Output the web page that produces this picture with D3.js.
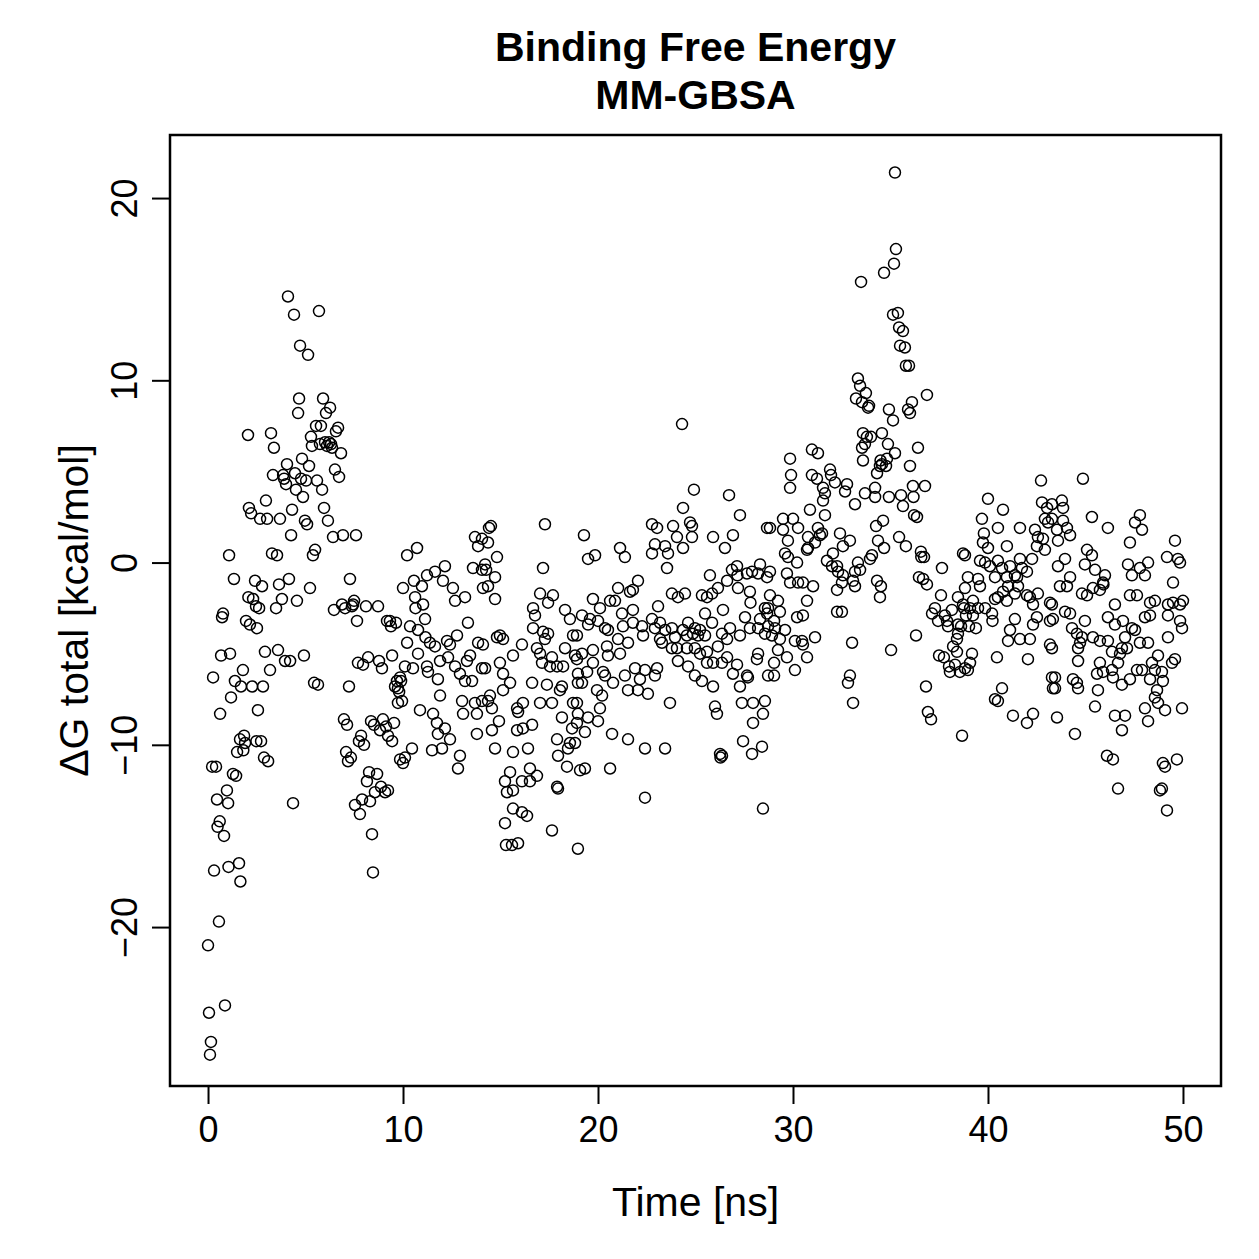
<!DOCTYPE html>
<html>
<head>
<meta charset="utf-8">
<script src="https://cdn.jsdelivr.net/npm/d3@7"></script>
<style>
  body { margin: 0; background: #fff; }
  text { font-family: "Liberation Sans", Arial, Helvetica, sans-serif; fill: #000; }
</style>
</head>
<body>
<div id="chart"></div>
<script>
// MM-GBSA binding free energy per frame, [time (ns), dG (kcal/mol)]
var seg00 = [[0.00,-21.0],[0.05,-24.7],[0.10,-27.0],[0.15,-26.3],[0.21,-11.2],[0.26,-6.3],[0.31,-16.9],[0.41,-11.2],[0.46,-13.0],[0.49,-14.5],[0.56,-19.7],[0.60,-14.2],[0.62,-8.3],[0.67,-5.1],[0.72,-3.0],[0.77,-2.8],[0.82,-15.0],[0.87,-24.3],[0.97,-12.5],[1.03,-13.2],[1.05,-16.7],[1.08,0.4],[1.13,-5.0],[1.18,-7.4],[1.28,-11.6],[1.33,-0.9],[1.38,-6.5],[1.44,-11.7],[1.49,-10.4],[1.59,-16.5],[1.64,-9.7],[1.66,-17.5],[1.69,-6.8],[1.79,-5.9],[1.81,-10.3],[1.85,-9.5],[1.90,-9.9],[1.95,-3.2],[2.05,7.0],[2.07,-1.9],[2.10,3.0],[2.15,-3.4],[2.21,2.7],[2.26,-6.8],[2.31,-2.0],[2.41,-1.0],[2.46,-2.4],[2.48,-9.8],[2.51,-3.6],[2.56,-8.1],[2.62,-2.5],[2.67,2.4],[2.72,-9.8],[2.77,-1.3],[2.82,-6.8],[2.87,-10.7],[2.92,-4.9],[2.97,3.4],[3.03,2.4],[3.08,-10.9],[3.18,-5.9],[3.23,7.1],[3.28,0.5],[3.33,4.8],[3.38,6.3],[3.49,-2.5],[3.54,0.4],[3.59,-4.8],[3.64,-1.2],[3.69,2.4],[3.79,-2.0],[3.85,4.8],[3.90,4.6],[3.95,-5.4],[4.00,4.3],[4.05,5.4],[4.10,14.6],[4.15,-0.9],[4.21,-5.4],[4.26,1.5],[4.31,2.9],[4.36,-13.2],[4.41,13.6],[4.46,4.9],[4.51,4.0],[4.56,-2.1],[4.62,8.2],[4.67,9.0],[4.72,11.9],[4.77,4.6],[4.82,5.7],[4.87,3.6],[4.92,-5.1],[4.97,2.3],[5.03,4.5],[5.08,2.1],[5.13,11.4],[5.18,5.3],[5.23,-1.4],[5.28,6.9],[5.33,6.4],[5.38,0.4],[5.44,-6.6],[5.49,0.7],[5.54,7.5],[5.59,4.5],[5.64,-6.7],[5.69,13.8],[5.74,6.5],[5.79,7.5],[5.85,4.0],[5.90,9.0],[5.95,3.0],[6.00,6.6],[6.05,8.2],[6.10,6.4],[6.15,2.3],[6.21,6.6],[6.26,8.5],[6.31,6.5],[6.36,6.3],[6.41,1.4],[6.46,-2.6],[6.51,5.1],[6.56,7.2],[6.67,7.4],[6.72,4.7],[6.82,6.0],[6.87,-2.3],[6.92,1.5],[6.97,-8.6],[7.03,-2.5],[7.08,-10.4],[7.13,-8.9],[7.18,-10.9],[7.23,-6.8],[7.28,-0.9],[7.33,-10.7],[7.38,-2.4],[7.44,-2.3],[7.49,-2.1],[7.54,-13.3],[7.59,1.5],[7.64,-3.2],[7.69,-5.5],[7.74,-9.8],[7.79,-13.8],[7.85,-9.5],[7.90,-13.0],[7.95,-5.6],[8.00,-10.0],[8.10,-2.4],[8.15,-12.0],[8.21,-5.2],[8.26,-11.5],[8.31,-13.1],[8.36,-8.7],[8.41,-14.9],[8.46,-17.0],[8.51,-8.9],[8.56,-12.6],[8.67,-11.6],[8.72,-2.4],[8.77,-5.4],[8.82,-9.2],[8.87,-12.3],[8.92,-5.8],[8.97,-8.6],[9.08,-12.6],[9.13,-9.0],[9.18,-3.2],[9.23,-9.5],[9.23,-12.5],[9.33,-3.2],[9.38,-3.5],[9.44,-5.1],[9.44,-9.8],[9.54,-8.8],[9.59,-6.8],[9.64,-3.3],[9.69,-6.5],[9.74,-6.9],[9.74,-7.7],[9.80,-7.1],[9.85,-10.8],[9.85,-6.3],[9.90,-6.5],[9.95,-7.6]];

var seg10 = [[10.00,-11.0],[10.21,0.4],[10.72,0.8],[10.00,-1.4],[10.56,-1.0],[10.97,-1.3],[11.23,-0.7],[11.64,-0.5],[12.15,-0.2],[12.05,-1.0],[12.56,-1.4],[12.67,-2.1],[13.18,-1.9],[10.62,-1.9],[10.64,-2.5],[11.03,-2.3],[11.13,-3.1],[10.36,-3.5],[10.77,-3.7],[11.15,-4.1],[11.38,-4.4],[11.64,-4.6],[12.26,-4.3],[12.41,-4.5],[12.77,-4.0],[13.33,-3.3],[10.21,-4.4],[10.77,-5.0],[11.90,-5.4],[12.31,-5.2],[12.67,-5.7],[13.28,-5.4],[13.44,-5.1],[13.85,-4.4],[10.10,-5.7],[10.51,-5.8],[11.23,-5.7],[11.28,-6.0],[11.79,-6.4],[12.92,-6.1],[13.18,-6.5],[13.54,-6.5],[11.90,-7.3],[13.03,-7.6],[13.69,-7.7],[13.08,-8.3],[13.79,-8.3],[10.87,-8.1],[11.54,-8.3],[11.74,-8.8],[11.79,-9.4],[12.15,-9.1],[12.41,-9.7],[13.79,-9.4],[10.46,-10.2],[11.49,-10.3],[12.00,-10.2],[12.92,-10.6],[12.82,-11.3],[10.10,-10.7],[13.69,1.4],[13.85,0.9],[13.59,-0.3],[14.05,-0.4],[14.10,-1.4],[14.05,-5.8],[14.41,1.9],[14.36,-7.6],[14.46,-7.3],[14.56,-8.0],[14.72,-10.2],[14.82,-4.1],[14.92,-8.7],[14.97,-4.0],[15.13,-7.0],[15.23,-12.0],[15.28,-15.5],[15.49,-11.5],[15.59,-15.5],[14.51,2.0],[17.28,2.1],[14.36,1.1],[14.05,1.3],[14.82,0.3],[14.21,-0.1],[14.26,-0.4],[14.72,-0.8],[14.36,-1.3],[14.72,-2.0],[17.18,-0.3],[17.03,-1.7],[17.44,-2.2],[17.69,-1.8],[16.67,-2.5],[16.77,-2.9],[18.31,-2.6],[18.56,-3.1],[16.67,-3.6],[17.18,-3.8],[17.44,-3.9],[17.28,-4.2],[18.72,-4.0],[15.13,-4.2],[14.10,-4.5],[16.10,-4.5],[16.87,-4.7],[18.31,-4.7],[15.64,-5.1],[17.03,-5.0],[17.64,-5.2],[14.97,-5.5],[17.13,-5.5],[17.54,-5.7],[17.90,-5.7],[18.21,-5.7],[18.82,-5.1],[14.21,-5.8],[15.13,-6.1],[15.49,-6.6],[16.62,-6.6],[17.38,-6.7],[18.15,-6.8],[18.05,-7.0],[18.97,-6.6],[14.05,-7.6],[15.85,-8.0],[16.15,-7.7],[17.03,-7.7],[17.64,-7.7],[18.72,-7.7],[15.90,-8.2],[14.56,-9.2],[15.85,-9.2],[16.15,-9.1],[16.62,-8.9],[18.15,-8.5],[18.67,-9.1],[17.90,-9.7],[18.56,-9.9],[18.46,-10.2],[15.64,-10.4],[16.41,-10.2],[17.95,-10.6],[18.41,-11.2],[16.51,-11.3],[16.10,-12.0],[16.51,-12.0],[16.87,-11.7],[17.90,-12.3],[17.95,-12.4],[15.33,-12.6],[15.64,-12.5],[15.64,-13.5],[16.10,-13.7],[16.36,-13.9],[15.23,-14.3],[17.64,-14.7],[15.90,-15.4],[19.28,1.5],[19.49,0.2],[19.85,0.4],[19.74,-2.0],[19.18,-2.9],[19.59,-3.1],[19.49,-3.4],[18.92,-4.0],[19.74,-4.8],[19.18,-5.0],[18.92,-5.3],[19.74,-5.5],[19.44,-6.0],[18.97,-6.1],[19.18,-6.6],[19.95,-7.0],[18.92,-7.7],[18.97,-8.3],[19.49,-8.5],[18.92,-8.8],[19.33,-9.3],[18.82,-9.9],[19.08,-11.4],[19.33,-11.3],[18.97,-15.7]];

var seg20 = [[22.77,2.1],[23.03,1.9],[23.85,2.0],[21.13,0.8],[21.38,0.3],[22.77,0.5],[22.92,1.0],[23.44,0.9],[23.59,0.5],[23.54,-0.3],[23.79,-1.7],[22.05,-1.0],[21.79,-1.5],[21.64,-1.6],[21.03,-1.4],[20.62,-2.1],[20.87,-2.1],[20.10,-2.5],[21.23,-2.8],[21.79,-2.6],[23.08,-2.4],[20.00,-3.2],[20.36,-3.6],[20.51,-3.7],[21.28,-3.5],[21.79,-3.3],[22.26,-3.5],[22.77,-3.1],[22.92,-3.6],[23.18,-3.3],[23.44,-3.7],[22.31,-4.0],[23.18,-4.2],[23.28,-4.4],[23.79,-4.7],[21.03,-4.2],[21.54,-4.4],[20.46,-4.6],[21.13,-5.0],[20.51,-5.1],[20.26,-6.0],[20.36,-6.2],[21.38,-6.2],[21.90,-5.8],[22.41,-5.9],[23.03,-5.8],[22.92,-6.2],[22.15,-6.4],[20.77,-6.6],[21.54,-7.0],[22.05,-7.0],[22.56,-7.2],[20.21,-7.3],[20.10,-8.0],[23.69,-7.7],[20.00,-8.7],[20.72,-9.4],[21.54,-9.7],[22.41,-10.2],[23.44,-10.2],[20.62,-11.3],[22.41,-12.9],[24.31,7.6],[24.92,4.0],[26.72,3.7],[24.36,3.0],[27.28,2.6],[24.72,2.2],[24.82,2.0],[24.05,1.4],[24.82,1.4],[25.90,1.4],[26.92,1.5],[26.51,0.8],[28.67,1.9],[24.36,0.8],[25.74,-0.7],[26.15,-1.4],[26.62,-1.0],[26.87,-0.4],[27.13,-0.2],[27.15,-0.7],[27.64,-0.6],[27.90,-0.5],[28.31,-0.1],[28.21,-0.6],[28.67,-0.8],[27.18,-1.4],[27.79,-1.6],[27.82,-2.2],[24.10,-1.9],[24.46,-1.7],[25.33,-1.8],[25.59,-1.9],[25.85,-1.7],[25.49,-2.8],[26.41,-2.6],[25.85,-3.3],[27.54,-3.0],[28.31,-3.1],[28.56,-2.5],[28.67,-2.8],[23.79,-3.6],[24.62,-3.3],[24.97,-3.6],[25.23,-3.7],[24.36,-3.7],[24.56,-4.0],[24.87,-3.9],[25.13,-4.0],[23.95,-4.1],[25.49,-4.0],[26.36,-3.9],[26.77,-3.6],[26.62,-4.2],[27.28,-4.0],[27.79,-3.6],[28.21,-3.6],[28.56,-3.9],[24.05,-4.7],[24.56,-4.7],[26.15,-4.6],[24.97,-4.7],[25.23,-5.0],[25.59,-4.9],[25.90,-5.5],[26.36,-5.5],[26.62,-5.2],[25.59,-5.5],[24.10,-5.4],[24.62,-5.7],[28.21,-5.0],[28.15,-5.3],[27.13,-5.6],[24.97,-6.2],[25.33,-6.5],[25.90,-6.8],[26.92,-6.1],[27.28,-6.8],[27.64,-6.2],[27.69,-6.3],[28.72,-6.2],[26.00,-7.9],[26.10,-8.3],[27.38,-7.7],[27.95,-7.7],[28.56,-7.6],[27.95,-8.8],[28.46,-8.3],[27.44,-9.8],[27.90,-10.5],[28.41,-10.1],[26.26,-10.5],[26.36,-10.6],[26.28,-10.7],[28.46,-13.5],[29.85,5.7],[29.90,4.8],[29.85,4.1],[29.49,2.4],[28.82,1.9],[29.49,1.8],[29.74,1.2],[29.59,0.5],[29.74,0.3],[28.82,-0.5],[29.69,-0.6],[29.85,-1.1],[28.82,-1.8],[29.23,-2.1],[28.72,-2.5],[29.33,-2.7],[29.03,-3.2],[28.72,-3.5],[29.08,-3.6],[29.59,-3.7],[28.92,-4.0],[29.33,-4.2],[29.23,-4.8],[29.69,-5.2],[29.03,-5.5],[29.03,-6.2]];

var seg30 = [[33.49,15.4],[33.33,10.1],[33.44,9.7],[33.23,9.0],[33.54,8.8],[33.59,7.1],[33.54,6.3],[33.59,5.6],[30.97,6.2],[31.28,6.0],[30.97,4.8],[31.23,4.6],[31.90,5.1],[31.95,4.8],[32.15,4.4],[32.77,4.3],[32.67,3.9],[31.54,4.1],[31.64,3.8],[31.54,3.4],[33.18,3.2],[33.69,3.8],[30.87,2.9],[31.64,2.6],[30.00,2.4],[30.26,1.9],[30.77,1.4],[31.28,1.9],[31.38,1.5],[31.49,1.6],[31.13,1.1],[30.77,0.8],[30.72,0.7],[32.41,1.6],[32.92,1.2],[32.56,0.9],[32.05,0.5],[30.21,0.0],[30.51,-1.1],[30.26,-1.1],[31.03,-1.3],[31.74,0.1],[32.00,-0.2],[32.26,-0.2],[32.31,-0.5],[32.56,-0.7],[32.51,-1.1],[33.08,-1.0],[33.18,-0.5],[33.33,0.0],[33.44,-0.4],[32.26,-1.5],[33.18,-1.3],[30.72,-2.1],[30.21,-3.0],[30.51,-2.9],[32.26,-2.7],[32.51,-2.7],[30.10,-4.3],[30.46,-4.3],[30.51,-4.5],[31.13,-4.1],[33.03,-4.4],[30.72,-5.2],[30.10,-5.9],[32.92,-6.2],[32.82,-6.6],[33.08,-7.7],[35.23,21.4],[35.28,17.2],[35.18,16.4],[34.67,15.9],[35.13,13.6],[35.38,13.7],[35.44,12.9],[35.49,11.9],[35.64,12.7],[35.74,11.8],[35.79,10.8],[35.95,10.8],[35.90,8.4],[36.00,8.2],[36.10,8.8],[36.87,9.2],[35.23,6.0],[36.41,6.3],[36.00,5.3],[36.15,4.2],[36.77,4.2],[36.18,3.6],[36.21,2.6],[36.36,2.5],[35.54,3.7],[35.64,3.1],[35.44,1.4],[35.79,0.9],[36.56,0.6],[36.31,-4.0],[36.46,-0.8],[36.58,0.3],[36.67,-0.9],[36.87,-1.2],[36.72,0.3],[36.82,-6.8],[36.92,-8.2],[37.08,-8.6],[37.13,-2.8],[37.28,-2.5],[37.44,-3.2],[37.49,-5.1],[37.59,-1.8],[37.64,-0.3],[37.74,-5.2],[37.79,-2.9],[37.90,-3.2],[37.95,-3.5],[38.00,-5.7],[38.05,-6.0],[38.15,-2.6],[38.21,-4.6],[38.31,-5.6],[38.41,-4.2],[38.46,-3.4],[38.56,-6.0],[38.67,-9.5],[38.77,-2.5],[38.87,-2.9],[38.72,0.5],[34.21,4.1],[34.31,4.9],[34.46,5.3],[34.49,5.6],[34.56,5.4],[34.36,1.2],[34.46,-1.9],[34.51,-1.3],[34.62,2.3],[34.67,0.8],[34.77,5.3],[34.82,5.7],[34.87,6.5],[34.92,8.4],[35.13,7.8],[34.92,3.6],[34.56,7.1],[34.00,6.9],[33.69,6.5],[33.79,6.9],[33.90,8.6],[33.74,9.3],[33.85,8.5],[34.21,3.6],[34.26,2.0],[34.05,0.4],[33.95,0.2],[34.31,-1.0],[35.03,-4.8],[39.69,2.4],[39.79,1.6],[39.74,1.1],[38.82,0.4],[39.59,0.1],[39.85,0.0],[38.97,-0.8],[39.49,-0.9],[39.59,-1.3],[38.82,-1.4],[38.46,-1.9],[38.72,-2.3],[39.23,-2.1],[39.49,-2.5],[39.85,-2.5],[39.08,-2.5],[39.23,-2.9],[38.62,-3.5],[39.03,-3.5],[39.38,-3.6],[38.46,-3.9],[38.41,-4.9],[39.18,-5.0],[39.08,-5.5],[38.82,-5.8],[38.97,-5.9]];

var seg40 = [[42.72,4.5],[40.00,3.5],[40.77,2.9],[40.51,1.9],[41.64,1.9],[42.41,1.8],[42.77,3.3],[43.03,3.0],[42.92,2.4],[43.08,2.2],[42.56,1.4],[42.82,1.3],[42.51,0.9],[42.92,0.7],[40.00,0.8],[40.97,0.9],[40.10,-0.2],[40.51,0.1],[40.72,-0.3],[41.13,-0.2],[41.64,0.2],[42.26,0.2],[41.74,-0.3],[42.00,-0.5],[41.38,-0.7],[40.97,-0.8],[40.36,-0.8],[41.03,-1.3],[41.54,-1.3],[41.49,-0.8],[42.56,-1.7],[42.00,-1.8],[41.38,-1.7],[40.77,-1.6],[40.51,-1.9],[40.36,-2.0],[40.97,-2.1],[42.15,-1.9],[43.18,-2.2],[42.31,-2.3],[40.21,-2.8],[40.23,-3.2],[41.38,-3.1],[42.51,-3.0],[43.18,-3.2],[41.13,-3.7],[42.31,-3.4],[41.03,-4.3],[41.64,-4.2],[42.15,-4.2],[43.18,-4.5],[43.28,-4.7],[40.46,-5.2],[42.05,-5.3],[43.28,-6.3],[43.33,-6.9],[40.72,-6.9],[40.36,-7.5],[40.51,-7.6],[41.28,-8.4],[42.00,-8.8],[42.31,-8.3],[44.87,4.6],[43.79,3.4],[43.85,3.0],[45.33,2.5],[46.15,1.9],[47.79,2.6],[47.54,2.2],[47.90,1.8],[49.59,1.2],[43.28,3.2],[43.28,2.4],[43.85,2.3],[43.54,1.8],[44.05,1.9],[44.21,1.5],[43.59,1.2],[47.28,1.1],[45.08,0.7],[45.33,0.4],[43.95,0.2],[44.97,-0.1],[45.49,-0.4],[46.00,-0.7],[45.90,-1.1],[47.18,-0.1],[47.79,-0.3],[48.21,0.0],[47.38,-0.7],[48.05,-0.7],[49.18,0.3],[49.74,0.2],[49.85,0.0],[49.49,-1.1],[43.59,-0.2],[44.21,-0.8],[43.69,-1.3],[44.05,-1.3],[44.82,-1.7],[45.08,-1.8],[45.38,-1.4],[45.74,-1.5],[45.92,-1.2],[46.51,-2.3],[47.28,-1.8],[47.64,-1.8],[48.31,-2.2],[48.56,-2.1],[49.23,-2.3],[49.49,-2.2],[50.00,-2.1],[49.85,-2.3],[43.28,-2.3],[43.33,-3.1],[43.95,-2.7],[44.21,-2.8],[44.97,-3.2],[46.15,-3.0],[46.51,-3.4],[46.92,-3.2],[47.38,-3.6],[48.05,-3.0],[48.31,-2.9],[49.23,-2.9],[49.85,-3.2],[49.95,-3.6],[44.31,-3.6],[44.56,-3.9],[44.82,-4.1],[45.38,-4.1],[45.74,-4.3],[46.15,-4.3],[47.03,-4.1],[47.54,-3.7],[49.23,-4.1],[44.72,-4.4],[44.62,-4.7],[47.79,-4.4],[48.21,-4.4],[46.87,-4.7],[46.36,-4.9],[46.77,-5.0],[47.13,-4.7],[44.62,-5.4],[45.74,-5.5],[46.67,-5.5],[48.72,-5.1],[48.41,-5.5],[49.59,-5.3],[49.44,-5.5],[45.59,-6.1],[45.90,-6.0],[46.36,-5.9],[47.64,-5.9],[47.90,-5.9],[48.56,-5.9],[48.92,-6.0],[43.44,-6.3],[44.36,-6.4],[44.56,-6.6],[46.41,-6.3],[46.87,-6.7],[47.28,-6.4],[48.31,-6.4],[48.97,-6.5],[43.44,-6.9],[44.62,-6.9],[45.64,-7.0],[48.67,-7.0],[48.56,-7.4],[48.72,-7.7],[45.49,-7.9],[48.05,-8.0],[49.08,-8.1],[49.95,-8.0],[46.51,-8.4],[47.03,-8.4],[48.21,-8.7],[43.54,-8.5],[44.46,-9.4],[46.87,-9.2],[46.10,-10.6],[46.41,-10.8],[48.97,-11.0],[49.08,-11.2],[49.69,-10.8],[46.67,-12.4],[48.82,-12.5],[48.92,-12.4],[49.18,-13.6]];

var xTicks = [0, 10, 20, 30, 40, 50];
var yTicks = [-20, -10, 0, 10, 20];
var titleLines = ["Binding Free Energy", "MM-GBSA"];
var xLabel = "Time [ns]";
var yLabel = "\u0394G total [kcal/mol]";

var W = 1259, H = 1259;
var box = {left: 170, right: 1221, top: 135, bottom: 1086};

var svg = d3.select("#chart").append("svg")
    .attr("width", W)
    .attr("height", H);

svg.append("rect")
    .attr("width", W)
    .attr("height", H)
    .attr("fill", "#fff");

var x = d3.scaleLinear().domain([-1.95, 51.95]).range([box.left, box.right]);
var y = d3.scaleLinear().domain([-28.72, 23.46]).range([box.bottom, box.top]);

var allPoints = seg00.concat(seg10, seg20, seg30, seg40);

//open circles, one per frame
svg.append("g")
    .selectAll("circle")
    .data(allPoints)
    .enter()
    .append("circle")
    .attr("cx", d => x(d[0]))
    .attr("cy", d => y(d[1]))
    .attr("r", 5.5)
    .attr("fill", "none")
    .attr("stroke", "#000")
    .attr("stroke-width", 1.5);

//x axis
var xAxis = svg.append("g")
    .attr("transform", "translate(0," + box.bottom + ")")
    .call(d3.axisBottom(x).tickValues(xTicks).tickSize(18).tickPadding(12).tickFormat(d3.format("d")));
xAxis.select(".domain").attr("d", "M" + x(0) + ",0H" + x(50)).attr("stroke-width", 2);
xAxis.selectAll(".tick line").attr("stroke-width", 2);
xAxis.selectAll("text")
    .attr("font-size", 36)
    .style("font-family", "'Liberation Sans', Arial, sans-serif");

//y axis, labels parallel to the axis
var yAxis = svg.append("g")
    .attr("transform", "translate(" + box.left + ",0)")
    .call(d3.axisLeft(y).tickValues(yTicks).tickSize(18).tickFormat(d3.format("d")));
yAxis.select(".domain").attr("d", "M0," + y(-20) + "V" + y(20)).attr("stroke-width", 2);
yAxis.selectAll(".tick line").attr("stroke-width", 2);
yAxis.selectAll("text")
    .attr("x", 0)
    .attr("y", -33)
    .attr("dy", 0)
    .attr("transform", "rotate(-90)")
    .attr("text-anchor", "middle")
    .attr("font-size", 36)
    .style("font-family", "'Liberation Sans', Arial, sans-serif");

//plot frame
svg.append("rect")
    .attr("x", box.left)
    .attr("y", box.top)
    .attr("width", box.right - box.left)
    .attr("height", box.bottom - box.top)
    .attr("fill", "none")
    .attr("stroke", "#000")
    .attr("stroke-width", 2.5);

//title
svg.selectAll(".title")
    .data(titleLines)
    .enter()
    .append("text")
    .attr("class", "title")
    .attr("x", (box.left + box.right) / 2)
    .attr("y", (d, i) => 61 + i * 48)
    .attr("text-anchor", "middle")
    .attr("font-size", 41)
    .attr("font-weight", "bold")
    .text(d => d);

svg.append("text")
    .attr("x", (box.left + box.right) / 2)
    .attr("y", 1216)
    .attr("text-anchor", "middle")
    .attr("font-size", 41)
    .text(xLabel);

svg.append("text")
    .attr("transform", "translate(88," + ((box.top + box.bottom) / 2) + ") rotate(-90)")
    .attr("text-anchor", "middle")
    .attr("font-size", 41)
    .text(yLabel);
</script>
</body>
</html>
